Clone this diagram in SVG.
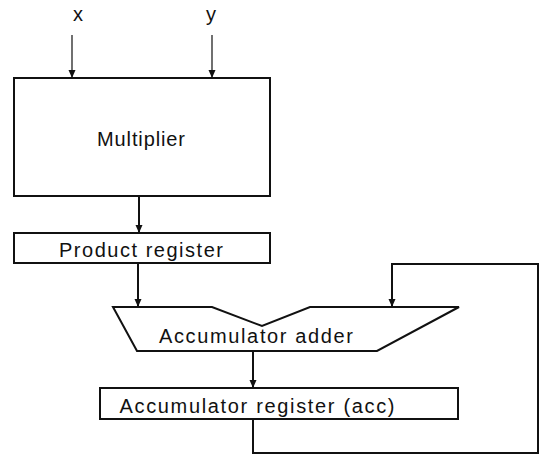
<svg xmlns="http://www.w3.org/2000/svg" width="544" height="456" viewBox="0 0 544 456">
  <defs>
    <marker id="arrow" viewBox="0 0 8 10" refX="8" refY="5" markerWidth="8" markerHeight="10" markerUnits="userSpaceOnUse" orient="auto">
      <path d="M0,1.5 L8,5 L0,8.5 Z" fill="#111"/>
    </marker>
  </defs>
  <style>
    .box { fill: #fff; stroke: #111; stroke-width: 2; }
    .lbl { font-family: "Liberation Sans", Arial, sans-serif; font-size: 20px; fill: #111; }
    .in { stroke: #111; stroke-width: 1.2; fill: none; }
    .wire { stroke: #111; stroke-width: 2; fill: none; }
  </style>
  <rect width="544" height="456" fill="#fff"/>

  <text class="lbl" x="78" y="21" text-anchor="middle" font-size="22">x</text>
  <text class="lbl" x="211" y="21" text-anchor="middle" font-size="22">y</text>

  <g id="multiplier">
    <rect class="box" x="14" y="78" width="256" height="118"/>
    <text class="lbl" x="141" y="146" text-anchor="middle" textLength="88">Multiplier</text>
  </g>

  <g id="product-register">
    <rect class="box" x="14" y="233" width="256" height="30"/>
    <text class="lbl" x="141" y="257" text-anchor="middle" textLength="164">Product register</text>
  </g>

  <g id="accumulator-adder">
    <path class="box" d="M113,307 L212,307 L262,326 L310,307 L459,307 L377,351 L137,351 Z"/>
    <text class="lbl" x="256" y="343" text-anchor="middle" textLength="194">Accumulator adder</text>
  </g>

  <g id="accumulator-register">
    <rect class="box" x="100" y="388" width="358" height="31"/>
    <text class="lbl" x="257" y="413" text-anchor="middle" textLength="275">Accumulator register (acc)</text>
  </g>

  <g id="connectors">
    <line class="in" x1="72" y1="35" x2="72" y2="78" marker-end="url(#arrow)"/>
    <line class="in" x1="212" y1="35" x2="212" y2="78" marker-end="url(#arrow)"/>
    <line class="wire" x1="139" y1="196" x2="139" y2="233" marker-end="url(#arrow)"/>
    <line class="wire" x1="138" y1="263" x2="138" y2="307" marker-end="url(#arrow)"/>
    <line class="wire" x1="253" y1="351" x2="253" y2="388" marker-end="url(#arrow)"/>
    <path class="wire" d="M253,419 L253,453 L538,453 L538,264 L392,264 L392,307" marker-end="url(#arrow)"/>
  </g>
</svg>
